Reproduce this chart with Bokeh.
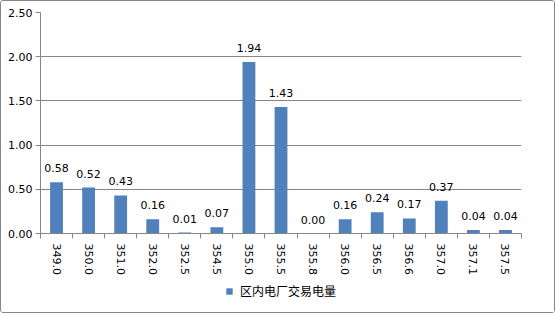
import math
from bokeh.plotting import figure
from bokeh.layouts import column
from bokeh.models import ColumnDataSource, Range1d, FixedTicker, Legend, LegendItem, LabelSet, NumeralTickFormatter
from bokeh.core.properties import value
from bokeh.embed import file_html
from bokeh.resources import INLINE

categories = ["349.0", "350.0", "351.0", "352.0", "352.5", "354.5", "355.0", "355.5",
              "355.8", "356.0", "356.5", "356.6", "357.0", "357.1", "357.5"]
values = [0.58, 0.52, 0.43, 0.16, 0.01, 0.07, 1.94, 1.43, 0.00, 0.16, 0.24, 0.17, 0.37, 0.04, 0.04]
series_name = "区内电厂交易电量"
y_ticks = [0, 0.5, 1.0, 1.5, 2.0, 2.5]

n = len(categories)
idx = list(range(n))
src = ColumnDataSource(dict(x=idx, top=values, lab=[f"{v:.2f}" for v in values]))

GRAY = "#868686"
BLUE = "#4F81BD"
FONT = "DejaVu Sans"

H1 = 278
p = figure(width=553, height=H1, output_backend="svg", toolbar_location=None,
           x_range=Range1d(-0.5, n - 0.5), y_range=Range1d(0, 2.5),
           min_border_left=39, min_border_right=33, min_border_top=11, min_border_bottom=H1 - 232)
p.outline_line_color = None
p.background_fill_color = "white"
p.border_fill_color = "white"

r = p.vbar(x="x", top="top", width=0.4, source=src, fill_color=BLUE, line_color=None)

labels = LabelSet(x="x", y="top", text="lab", source=src, text_align="center",
                  text_baseline="alphabetic", y_offset=10,
                  text_font=value(FONT), text_font_size="11px", text_color="#000000")
p.add_layout(labels)

# x axis
p.xaxis.ticker = FixedTicker(ticks=idx, minor_ticks=[i - 0.5 for i in range(n + 1)])
p.xaxis.major_label_overrides = {i: c for i, c in zip(idx, categories)}
p.xaxis.major_label_orientation = -math.pi / 2
p.xaxis.major_tick_line_color = None
p.xaxis.minor_tick_line_color = GRAY
p.xaxis.minor_tick_in = 0
p.xaxis.minor_tick_out = 5
p.xaxis.axis_line_color = GRAY
p.xaxis.major_label_text_font = FONT
p.xaxis.major_label_text_font_size = "11px"
p.xaxis.major_label_text_color = "#000000"
p.xaxis.major_label_standoff = 4

# y axis
p.yaxis.ticker = FixedTicker(ticks=y_ticks)
p.yaxis.formatter = NumeralTickFormatter(format="0.00")
p.yaxis.axis_line_color = GRAY
p.yaxis.major_tick_line_color = GRAY
p.yaxis.major_tick_in = 0
p.yaxis.major_tick_out = 5
p.yaxis.minor_tick_line_color = None
p.yaxis.major_label_text_font = FONT
p.yaxis.major_label_text_font_size = "11px"
p.yaxis.major_label_text_color = "#000000"
p.yaxis.major_label_standoff = 3

p.xgrid.grid_line_color = None
p.ygrid.grid_line_color = GRAY
p.ygrid.ticker = FixedTicker(ticks=y_ticks)

# legend strip (same series, drawn out of view so only its legend entry shows)
H2 = 311 - H1
q = figure(width=553, height=H2, output_backend="svg", toolbar_location=None,
           x_range=Range1d(-0.5, n - 0.5), y_range=Range1d(10, 11),
           x_axis_type=None, y_axis_type=None, min_border=0)
q.outline_line_color = None
q.xgrid.grid_line_color = None
q.ygrid.grid_line_color = None
rq = q.vbar(x="x", top="top", width=0.4, source=src, fill_color=BLUE, line_color=None)
legend = Legend(items=[LegendItem(label=series_name, renderers=[rq])],
                location=(185, H2 - 20), orientation="horizontal",
                glyph_width=8, glyph_height=8, label_height=14, label_standoff=7,
                padding=0, margin=0, border_line_color=None, background_fill_alpha=0,
                label_text_font="Noto Sans CJK SC", label_text_font_size="12px",
                label_text_color="#000000")
q.add_layout(legend, "center")

layout = column(p, q, spacing=0)
layout.styles = {"border": f"1px solid {GRAY}", "border-radius": "3px", "background": "white"}

open("out.html", "w").write(file_html(layout, INLINE))
